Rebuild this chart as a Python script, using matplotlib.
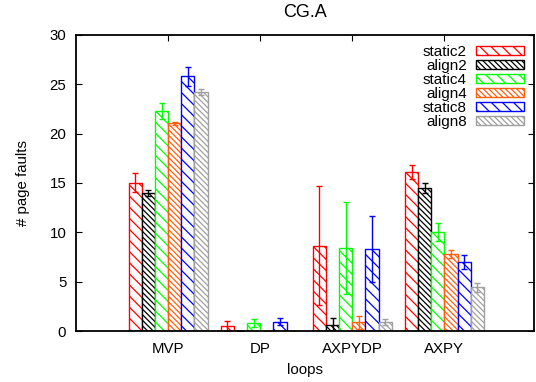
import numpy as np
import matplotlib
matplotlib.use("Agg")
import matplotlib.pyplot as plt

plt.rcParams['font.family'] = ['Liberation Sans', 'DejaVu Sans']
plt.rcParams['font.size'] = 10.8
plt.rcParams['hatch.linewidth'] = 0.9

# Data
loops = ["MVP", "DP", "AXPYDP", "AXPY"]
series = ["static2", "align2", "static4", "align4", "static8", "align8"]

static2 = [15.05, 0.54, 8.65, 16.08]
align2 = [14.0, 0.0, 0.6, 14.5]
static4 = [22.3, 0.78, 8.4, 10.0]
align4 = [21.04, 0.0, 0.88, 7.77]
static8 = [25.8, 0.94, 8.3, 7.0]
align8 = [24.2, 0.0, 0.88, 4.43]

static2_err = [1.0, 0.5, 6.0, 0.7]
align2_err = [0.3, 0.0, 0.7, 0.5]
static4_err = [0.85, 0.41, 4.7, 0.9]
align4_err = [0.15, 0.0, 0.67, 0.4]
static8_err = [0.95, 0.34, 3.35, 0.75]
align8_err = [0.3, 0.0, 0.32, 0.45]

values = [static2, align2, static4, align4, static8, align8]
errors = [static2_err, align2_err, static4_err, align4_err, static8_err, align8_err]
colors = ["#ff0000", "#000000", "#00ff00", "#ff6010", "#0000ff", "#a0a0a0"]
hatches = ["\\\\\\", "\\\\\\\\\\\\", "\\\\\\", "\\\\\\\\\\\\", "\\\\\\", "\\\\\\\\\\\\"]

fig = plt.figure(figsize=(5.36, 3.82), dpi=100)
ax = fig.add_axes([0.1418, 0.1335, 0.8545, 0.7749])

x = np.arange(len(loops))
width = 1.0 / 7
for i, name in enumerate(series):
    pos = x + (i - 2.5) * width
    ax.bar(pos, values[i], width, facecolor="white", edgecolor=colors[i],
           hatch=hatches[i], linewidth=1.0, label=name)
    ax.errorbar(pos, values[i], yerr=errors[i], fmt="none", ecolor=colors[i],
                elinewidth=1.0, capsize=2.2, capthick=1.0)

ax.set_xlim(-1.0, 3.973)
ax.set_ylim(0, 30)
ax.set_yticks(range(0, 31, 5))
ax.set_xticks(x)
ax.set_xticklabels(loops)
ax.tick_params(axis="y", direction="in", left=True, right=True, length=4, pad=7)
ax.tick_params(axis="x", direction="in", bottom=False, top=True, length=4, pad=8)
for s in ax.spines.values():
    s.set_linewidth(1.3)

ax.set_title("CG.A", pad=13)
ax.set_xlabel("loops", labelpad=5)
ax.set_ylabel("# page faults", labelpad=14)

ax.legend(loc="upper right", frameon=False, markerfirst=False,
          handlelength=3.15, handleheight=0.52, labelspacing=0.0,
          handletextpad=0.6, borderaxespad=0.25, fontsize=11)

fig.savefig("out.png", dpi=100)
